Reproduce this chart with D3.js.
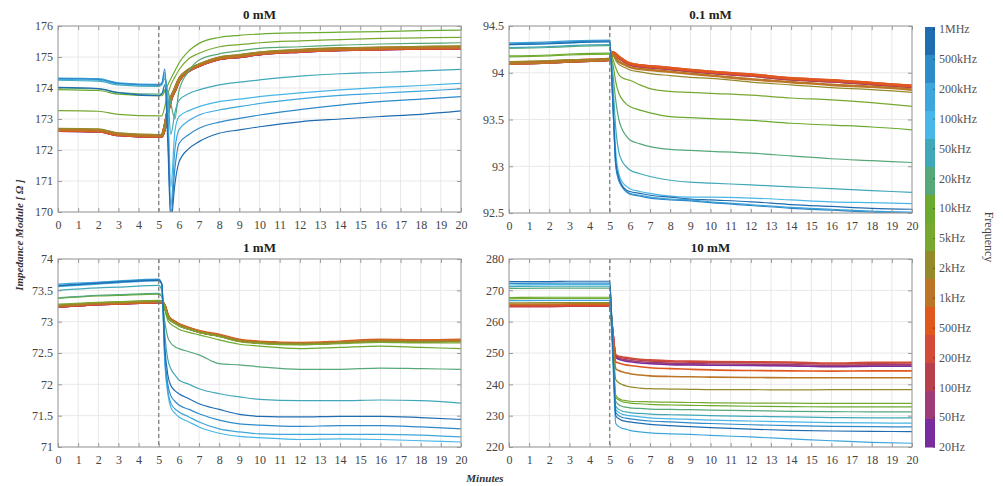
<!DOCTYPE html>
<html>
<head>
<meta charset="utf-8">
<script src="https://cdn.jsdelivr.net/npm/d3@7"></script>
<style>
  body { margin: 0; background: #fff; }
  svg, svg text { font-family: "Liberation Serif", "DejaVu Serif", serif; }
  .tick text { fill: #444; }
</style>
</head>
<body>
<svg id="chart" width="1003" height="486"></svg>
<script>

// sample times (minutes) shared by every series
var minutes = [0, 2, 3, 5, 5.15, 5.3, 5.45, 5.6, 5.8, 6, 6.5, 7, 8, 9, 10, 12, 14, 16, 18, 20];

var freqLabels = ["1MHz", "500kHz", "200kHz", "100kHz", "50kHz", "20kHz", "10kHz", "5kHz",
                  "2kHz", "1kHz", "500Hz", "200Hz", "100Hz", "50Hz", "20Hz"];
var freqColors = ["#1f6cb0", "#2e8ac8", "#3ea6dc", "#48b6e6", "#40a8b8", "#55a878", "#6aaa2e", "#78a830",
                  "#958a2a", "#bc7426", "#e0581e", "#d24a38", "#b8404c", "#9e3c78", "#7a2c9e"];

var xTicks = [0, 1, 2, 3, 4, 5, 6, 7, 8, 9, 10, 11, 12, 13, 14, 15, 16, 17, 18, 19, 20];
var titles = ["0 mM", "0.1 mM", "1 mM", "10 mM"];
var yTicks0 = [170, 171, 172, 173, 174, 175, 176];
var yTicks01 = [92.5, 93, 93.5, 94, 94.5];
var yTicks1 = [71, 71.5, 72, 72.5, 73, 73.5, 74];
var yTicks10 = [220, 230, 240, 250, 260, 270, 280];

// rows follow freqLabels (1MHz ... 20Hz), columns follow minutes
var imp0mM = [
  [174.02,173.98,173.85,173.75,173.80,174.10,172.20,169.70,170.90,171.60,172.05,172.27,172.54,172.65,172.75,172.91,173.00,173.08,173.15,173.26],
  [174.30,174.28,174.15,174.10,174.15,174.62,172.60,169.90,171.40,172.20,172.50,172.70,172.90,173.02,173.13,173.30,173.45,173.56,173.64,173.72],
  [174.32,174.30,174.17,174.12,174.15,174.50,173.00,170.20,172.00,172.65,172.95,173.13,173.29,173.40,173.50,173.65,173.76,173.83,173.90,173.97],
  [174.28,174.25,174.13,174.08,174.12,174.40,173.40,170.80,172.60,173.08,173.27,173.40,173.56,173.64,173.72,173.84,173.94,174.02,174.08,174.15],
  [174.25,174.22,174.10,174.05,174.10,174.30,173.80,172.50,173.20,173.60,173.82,173.94,174.10,174.19,174.26,174.38,174.46,174.50,174.55,174.60],
  [174.00,173.97,173.85,173.80,173.82,173.95,173.90,173.50,173.00,173.90,174.55,174.90,175.10,175.20,175.28,175.33,175.38,175.42,175.44,175.46],
  [173.95,173.92,173.80,173.75,173.75,173.90,174.10,174.30,174.55,174.80,175.20,175.44,175.63,175.70,175.74,175.78,175.80,175.82,175.85,175.87],
  [173.27,173.25,173.15,173.10,173.10,173.40,173.80,174.10,174.35,174.58,174.95,175.12,175.33,175.40,175.46,175.52,175.56,175.60,175.62,175.63],
  [172.70,172.68,172.55,172.50,172.50,172.80,173.30,173.70,174.00,174.30,174.62,174.78,175.00,175.08,175.16,175.25,175.30,175.32,175.34,175.36],
  [172.66,172.64,172.52,172.47,172.47,172.76,173.26,173.66,173.96,174.27,174.59,174.75,174.97,175.04,175.13,175.21,175.26,175.29,175.31,175.32],
  [172.64,172.62,172.50,172.45,172.45,172.74,173.24,173.64,173.94,174.25,174.57,174.73,174.95,175.02,175.11,175.19,175.24,175.27,175.29,175.30],
  [172.64,172.62,172.50,172.45,172.45,172.74,173.24,173.64,173.94,174.25,174.57,174.73,174.95,175.02,175.11,175.19,175.24,175.27,175.29,175.30],
  [172.63,172.61,172.49,172.44,172.44,172.73,173.23,173.63,173.93,174.24,174.56,174.72,174.94,175.01,175.10,175.18,175.23,175.26,175.28,175.29],
  [172.63,172.61,172.49,172.44,172.44,172.73,173.23,173.63,173.93,174.24,174.56,174.72,174.94,175.01,175.10,175.18,175.23,175.26,175.28,175.29],
  [172.63,172.61,172.49,172.44,172.44,172.73,173.23,173.63,173.93,174.24,174.56,174.72,174.94,175.01,175.10,175.18,175.23,175.26,175.28,175.29]
];

var imp01mM = [
  [94.30,94.31,94.32,94.33,93.70,93.05,92.88,92.80,92.75,92.73,92.71,92.69,92.67,92.65,92.64,92.62,92.59,92.57,92.55,92.54],
  [94.31,94.32,94.33,94.34,93.70,93.00,92.85,92.78,92.73,92.70,92.68,92.66,92.64,92.63,92.61,92.58,92.55,92.53,92.51,92.50],
  [94.32,94.33,94.34,94.35,93.70,93.00,92.85,92.79,92.74,92.71,92.69,92.67,92.65,92.64,92.62,92.59,92.56,92.54,92.52,92.51],
  [94.30,94.31,94.32,94.34,93.80,93.15,92.92,92.84,92.79,92.76,92.73,92.71,92.68,92.67,92.67,92.66,92.64,92.62,92.61,92.60],
  [94.27,94.28,94.29,94.30,93.90,93.40,93.15,93.06,93.00,92.96,92.92,92.89,92.85,92.83,92.82,92.80,92.78,92.76,92.74,92.72],
  [94.26,94.27,94.28,94.29,94.00,93.70,93.50,93.40,93.33,93.28,93.24,93.21,93.18,93.17,93.16,93.14,93.11,93.08,93.06,93.04],
  [94.18,94.19,94.20,94.21,94.10,93.90,93.78,93.72,93.67,93.64,93.60,93.57,93.53,93.52,93.51,93.49,93.46,93.44,93.42,93.39],
  [94.17,94.18,94.19,94.20,94.15,94.05,93.98,93.95,93.93,93.92,93.87,93.83,93.80,93.79,93.78,93.76,93.73,93.71,93.68,93.64],
  [94.12,94.13,94.14,94.15,94.18,94.13,94.09,94.07,94.05,94.03,94.01,93.99,93.97,93.95,93.94,93.90,93.87,93.84,93.82,93.79],
  [94.10,94.11,94.12,94.14,94.20,94.16,94.12,94.10,94.08,94.06,94.04,94.03,94.01,93.99,93.97,93.93,93.90,93.87,93.85,93.82],
  [94.10,94.11,94.13,94.14,94.22,94.20,94.17,94.15,94.12,94.10,94.08,94.07,94.05,94.03,94.01,93.98,93.94,93.92,93.89,93.86],
  [94.11,94.12,94.13,94.15,94.22,94.20,94.17,94.15,94.12,94.10,94.08,94.07,94.05,94.03,94.01,93.98,93.94,93.92,93.89,93.86],
  [94.10,94.11,94.12,94.14,94.21,94.19,94.16,94.14,94.11,94.09,94.07,94.06,94.04,94.02,94.00,93.97,93.93,93.91,93.88,93.85],
  [94.10,94.11,94.12,94.14,94.21,94.19,94.16,94.14,94.11,94.09,94.07,94.06,94.04,94.02,94.00,93.97,93.93,93.91,93.88,93.85],
  [94.10,94.11,94.12,94.14,94.21,94.19,94.16,94.14,94.11,94.09,94.07,94.06,94.04,94.02,94.00,93.97,93.93,93.91,93.88,93.85]
];

var imp1mM = [
  [73.57,73.61,73.63,73.66,73.60,72.60,72.15,71.98,71.90,71.85,71.77,71.69,71.60,71.52,71.49,71.48,71.49,71.49,71.47,71.44],
  [73.58,73.62,73.64,73.67,73.60,72.50,72.00,71.82,71.73,71.67,71.60,71.53,71.43,71.37,71.35,71.33,71.34,71.34,71.32,71.29],
  [73.60,73.63,73.65,73.68,73.60,72.40,71.90,71.70,71.61,71.56,71.48,71.40,71.29,71.24,71.21,71.20,71.20,71.20,71.19,71.16],
  [73.56,73.60,73.62,73.65,73.60,72.35,71.85,71.63,71.54,71.48,71.40,71.32,71.22,71.17,71.15,71.12,71.13,71.12,71.10,71.08],
  [73.50,73.54,73.55,73.58,73.50,72.80,72.40,72.25,72.15,72.07,72.00,71.93,71.85,71.80,71.76,71.74,71.74,71.75,71.74,71.70],
  [73.38,73.42,73.43,73.45,73.40,73.00,72.75,72.66,72.60,72.57,72.52,72.47,72.33,72.31,72.28,72.24,72.24,72.26,72.25,72.24],
  [73.37,73.41,73.42,73.44,73.40,73.20,73.02,72.96,72.92,72.88,72.83,72.79,72.71,72.64,72.61,72.57,72.59,72.61,72.59,72.57],
  [73.28,73.31,73.32,73.34,73.32,73.22,73.07,73.01,72.97,72.93,72.88,72.83,72.76,72.68,72.65,72.63,72.65,72.67,72.66,72.66],
  [73.26,73.30,73.31,73.33,73.32,73.24,73.09,73.03,72.99,72.95,72.89,72.84,72.78,72.70,72.67,72.65,72.67,72.69,72.68,72.68],
  [73.25,73.29,73.30,73.32,73.32,73.24,73.09,73.03,72.99,72.95,72.89,72.84,72.78,72.70,72.67,72.65,72.67,72.70,72.69,72.70],
  [73.25,73.29,73.30,73.32,73.32,73.25,73.10,73.04,73.00,72.96,72.90,72.85,72.79,72.71,72.68,72.66,72.68,72.71,72.70,72.71],
  [73.24,73.28,73.29,73.31,73.31,73.24,73.09,73.03,72.99,72.95,72.89,72.84,72.78,72.70,72.67,72.65,72.67,72.70,72.69,72.70],
  [73.24,73.28,73.29,73.31,73.31,73.24,73.09,73.03,72.99,72.95,72.89,72.84,72.78,72.70,72.67,72.65,72.67,72.70,72.69,72.70],
  [73.24,73.28,73.29,73.31,73.31,73.24,73.09,73.03,72.99,72.95,72.89,72.84,72.78,72.70,72.67,72.65,72.67,72.70,72.69,72.70],
  [73.24,73.28,73.29,73.31,73.31,73.24,73.09,73.03,72.99,72.95,72.89,72.84,72.78,72.70,72.67,72.65,72.67,72.70,72.69,72.70]
];

var imp10mM = [
  [272.8,272.8,272.9,272.9,252.0,230.0,229.0,228.5,228.2,228.0,227.6,227.2,226.8,226.5,226.2,225.7,225.3,225.1,225.0,224.9],
  [272.2,272.3,272.3,272.3,252.0,231.0,230.0,229.5,229.2,229.0,228.6,228.3,228.0,227.7,227.5,227.1,226.8,226.6,226.5,226.4],
  [266.7,266.8,266.8,266.8,248.0,227.5,226.5,226.0,225.7,225.3,224.8,224.5,224.2,224.0,223.7,223.2,222.6,222.0,221.5,221.2],
  [271.7,271.8,271.8,271.8,252.0,232.0,231.0,230.5,230.2,230.0,229.6,229.3,229.0,228.8,228.6,228.3,228.0,227.8,227.7,227.6],
  [271.2,271.3,271.3,271.3,252.0,233.0,232.0,231.5,231.2,231.0,230.7,230.5,230.3,230.2,230.0,229.8,229.6,229.4,229.3,229.3],
  [270.6,270.7,270.7,270.7,252.0,234.5,233.5,233.0,232.7,232.5,232.3,232.1,232.0,231.9,231.8,231.6,231.4,231.3,231.2,231.2],
  [267.7,267.8,267.8,267.8,252.0,235.8,235.0,234.5,234.2,234.0,233.8,233.6,233.4,233.3,233.2,233.0,232.9,232.8,232.8,232.8],
  [267.3,267.4,267.4,267.4,252.0,236.5,235.5,235.0,234.8,234.6,234.5,234.4,234.3,234.2,234.1,234.0,234.0,233.9,233.9,233.9],
  [266.0,266.1,266.1,266.1,254.0,241.5,240.5,240.0,239.5,239.2,238.8,238.6,238.5,238.4,238.3,238.3,238.2,238.3,238.3,238.3],
  [265.6,265.6,265.7,265.7,255.0,245.0,244.4,244.0,243.7,243.4,243.0,242.7,242.5,242.4,242.3,242.2,242.1,242.1,242.1,242.1],
  [265.3,265.3,265.4,265.4,256.0,247.2,246.8,246.5,246.2,246.0,245.6,245.3,245.0,244.8,244.6,244.4,244.3,244.2,244.3,244.3],
  [265.0,265.0,265.1,265.1,257.0,249.5,249.0,248.8,248.6,248.4,248.0,247.8,247.5,247.4,247.3,247.2,247.1,246.8,247.0,247.0],
  [264.8,264.8,264.9,264.9,257.0,249.2,248.7,248.5,248.3,248.1,247.7,247.5,247.2,247.1,247.0,246.9,246.8,246.5,246.7,246.8],
  [265.1,265.1,265.2,265.2,257.0,248.8,248.3,248.0,247.8,247.6,247.2,247.0,246.7,246.6,246.5,246.4,246.3,246.0,246.2,246.2],
  [265.2,265.2,265.3,265.3,257.0,248.5,248.0,247.7,247.4,247.2,246.8,246.6,246.3,246.2,246.1,246.0,245.9,245.6,245.8,245.8]
];

var svg = d3.select("#chart");
var fontFam = "'Liberation Serif', 'DejaVu Serif', serif";

var panels = [
  {title: titles[0], rows: imp0mM, ticks: yTicks0, left: 58, right: 461, top: 26, bottom: 212, band: 3},
  {title: titles[1], rows: imp01mM, ticks: yTicks01, left: 509, right: 912, top: 26, bottom: 213, band: 2.6},
  {title: titles[2], rows: imp1mM, ticks: yTicks1, left: 58, right: 461, top: 259, bottom: 447, band: 2.6},
  {title: titles[3], rows: imp10mM, ticks: yTicks10, left: 509, right: 912, top: 259, bottom: 447, band: 1.6}
];

panels.forEach(function(p, pi) {
  var x = d3.scaleLinear().domain([0, 20]).range([p.left, p.right]);
  var y = d3.scaleLinear().domain(d3.extent(p.ticks)).range([p.bottom, p.top]);
  var g = svg.append("g");

  // grid
  g.selectAll(".vg").data(xTicks).enter().append("line")
    .attr("x1", function(d) { return x(d); }).attr("x2", function(d) { return x(d); })
    .attr("y1", p.top).attr("y2", p.bottom)
    .attr("stroke", "#e8e8e8").attr("stroke-width", 1);
  g.selectAll(".hg").data(p.ticks).enter().append("line")
    .attr("x1", p.left).attr("x2", p.right)
    .attr("y1", function(d) { return y(d); }).attr("y2", function(d) { return y(d); })
    .attr("stroke", "#e8e8e8").attr("stroke-width", 1);

  svg.append("clipPath").attr("id", "clip" + pi)
    .append("rect").attr("x", p.left).attr("y", p.top)
    .attr("width", p.right - p.left).attr("height", p.bottom - p.top);

  var line = d3.line()
    .x(function(d, i) { return x(minutes[i]); })
    .y(function(d) { return y(d); })
    .curve(d3.curveMonotoneX);

  // low frequency drawn first, 1MHz last
  var order = d3.range(p.rows.length).reverse();
  g.append("g").attr("clip-path", "url(#clip" + pi + ")")
    .selectAll("path").data(order).enter().append("path")
    .attr("d", function(k) { return line(p.rows[k]); })
    .attr("fill", "none")
    .attr("stroke", function(k) { return freqColors[k]; })
    .attr("stroke-width", function(k) { return k >= 9 ? p.band : 1.2; })
    .attr("stroke-linejoin", "round");

  // dashed marker at 5 minutes
  g.append("line")
    .attr("x1", x(5)).attr("x2", x(5)).attr("y1", p.top).attr("y2", p.bottom)
    .attr("stroke", "#777").attr("stroke-width", 1.2).attr("stroke-dasharray", "4,3");

  // axes
  var xAxis = d3.axisBottom(x).tickValues(xTicks).tickFormat(d3.format("")).tickSizeInner(-4).tickSizeOuter(0).tickPadding(8);
  var yAxis = d3.axisLeft(y).tickValues(p.ticks).tickFormat(d3.format("")).tickSizeInner(-4).tickSizeOuter(0).tickPadding(5);
  g.append("g").attr("transform", "translate(0," + p.bottom + ")").call(xAxis);
  g.append("g").attr("transform", "translate(" + p.left + ",0)").call(yAxis);
  g.append("g").attr("transform", "translate(0," + p.top + ")")
    .call(d3.axisTop(x).tickValues(xTicks).tickSizeInner(-4).tickSizeOuter(0).tickFormat(""));
  g.append("g").attr("transform", "translate(" + p.right + ",0)")
    .call(d3.axisRight(y).tickValues(p.ticks).tickSizeInner(-4).tickSizeOuter(0).tickFormat(""));
  g.selectAll(".domain").remove();
  g.selectAll(".tick line").attr("stroke", "#999");
  g.selectAll(".tick text").attr("font-family", fontFam).style("font-size", "12px").style("fill", "#444");

  g.append("rect")
    .attr("x", p.left).attr("y", p.top)
    .attr("width", p.right - p.left).attr("height", p.bottom - p.top)
    .attr("fill", "none").attr("stroke", "#9a9a9a").attr("stroke-width", 1);

  g.append("text")
    .attr("x", (p.left + p.right) / 2).attr("y", p.top - 7)
    .attr("text-anchor", "middle")
    .style("font-size", "13px").style("font-weight", "bold").style("fill", "#222")
    .text(p.title);
});

// axis titles
svg.append("text")
  .attr("transform", "translate(23,235) rotate(-90)")
  .attr("text-anchor", "middle")
  .style("font-size", "11px").style("font-style", "italic").style("font-weight", "bold").style("fill", "#333")
  .text("Impedance Module [ Ω ]");

svg.append("text")
  .attr("x", 485).attr("y", 482)
  .attr("text-anchor", "middle")
  .style("font-size", "11px").style("font-style", "italic").style("font-weight", "bold").style("fill", "#333")
  .text("Minutes");

// colorbar
var cb = d3.scaleBand().domain(freqLabels).range([27, 447]);
svg.append("g").selectAll("rect").data(freqLabels).enter().append("rect")
  .attr("x", 925).attr("width", 10)
  .attr("y", function(d) { return cb(d); })
  .attr("height", cb.bandwidth() + 0.5)
  .attr("fill", function(d, i) { return freqColors[i]; });

var cbTicks = d3.scalePoint().domain(freqLabels).range([29, 447]);
var cbAxis = svg.append("g").attr("transform", "translate(935,0)")
  .call(d3.axisRight(cbTicks).tickSizeInner(-2).tickSizeOuter(0).tickPadding(4));
cbAxis.select(".domain").remove();
cbAxis.selectAll(".tick line").attr("stroke", "rgba(0,0,0,0.35)");
cbAxis.selectAll(".tick text").attr("font-family", fontFam).style("font-size", "12px").style("fill", "#555");

svg.append("text")
  .attr("transform", "translate(985,237) rotate(90)")
  .attr("text-anchor", "middle")
  .style("font-size", "12px").style("fill", "#444")
  .text("Frequency");

</script>
</body>
</html>
